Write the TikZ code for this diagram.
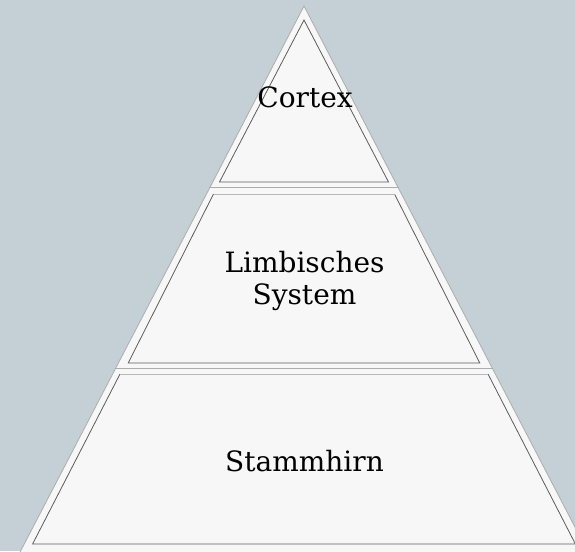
\documentclass[tikz,border=0pt]{standalone}
\usepackage{fontspec}
\setmainfont{DejaVu Serif}
\definecolor{bgblue}{HTML}{C5D0D6}
\definecolor{layerfill}{HTML}{F7F7F7}
\definecolor{shellgray}{HTML}{ACACAC}
\definecolor{rimgray}{HTML}{5C5C5C}
\definecolor{lipgray}{HTML}{B8B8B8}

\begin{document}
\begin{tikzpicture}[x=1pt, y=-1pt,
        shellseg/.style={fill=layerfill, draw=shellgray, line width=0.8pt},
        rimline/.style={draw=rimgray, line width=0.8pt},
        lipline/.style={draw=lipgray, line width=0.8pt},
        layertext/.style={font=\fontsize{28}{32}\selectfont, align=center}]
        \fill[bgblue] (0,0) rectangle (575,551);
        \clip (0,0) rectangle (575,551);

        % outer shells
        \draw[shellseg] (304,6) -- (398.1,187.5) -- (209.9,187.5) -- cycle;
        \draw[shellseg] (209.9,187.5) -- (398.1,187.5) -- (492.5,368.5) -- (115.5,368.5) -- cycle;
        \draw[shellseg] (115.5,368.5) -- (492.5,368.5) -- (590,556) -- (18,556) -- cycle;

        % inner faces
        \coordinate (top) at (304,20);
        \coordinate (c1) at (219.5,182);
        \coordinate (c2) at (388.5,182);
        \coordinate (l1) at (213.5,194);
        \coordinate (l2) at (394.5,194);
        \coordinate (l3) at (479.8,363);
        \coordinate (l4) at (128.2,363);
        \coordinate (s1) at (120,374);
        \coordinate (s2) at (488,374);
        \coordinate (s3) at (575.4,544);
        \coordinate (s4) at (32.6,544);

        \draw[rimline] (top) -- (c2) -- (c1) -- cycle;
        \draw[rimline] (l1) -- (l4) -- (l3) -- (l2);
        \draw[lipline] (l1) -- (l2);
        \draw[rimline] (s1) -- (s4) -- (s3) -- (s2);
        \draw[lipline] (s1) -- (s2);

        \node[layertext, anchor=base] (cortex) at (305,107) {Cortex};
        \node[layertext] (limbic) at (304.5,281) {Limbisches\\System};
        \node[layertext, anchor=base] (stem) at (304.5,471) {Stammhirn};
    \end{tikzpicture}
\end{document}
